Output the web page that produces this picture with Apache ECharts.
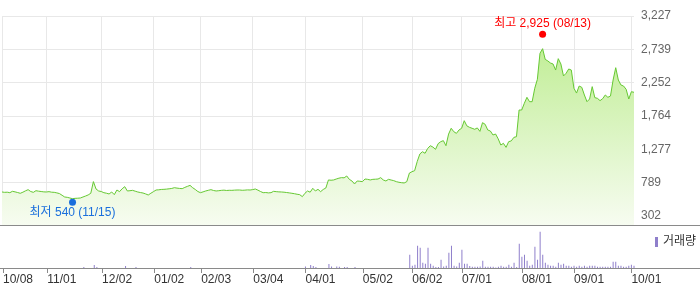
<!DOCTYPE html>
<html><head><meta charset="utf-8">
<script src="https://cdn.jsdelivr.net/npm/echarts@6/dist/echarts.min.js"></script>
<style>html,body{margin:0;padding:0;background:#fff}#c{width:700px;height:289px}</style>
</head><body><div id="c"></div>
<script>
const dates = [
"10/08","10/10","10/11","10/14","10/15","10/16","10/17","10/18","10/21","10/22","10/23","10/24","10/25","10/28","10/29","10/30","10/31",
"11/01","11/04","11/05","11/06","11/07","11/08","11/11","11/12","11/13","11/14","11/15","11/18","11/19","11/20","11/21","11/22","11/25","11/26","11/27","11/28","11/29",
"12/02","12/03","12/04","12/05","12/06","12/09","12/10","12/11","12/12","12/13","12/16","12/17","12/18","12/19","12/20","12/23","12/24","12/26","12/27","12/30",
"01/02","01/03","01/06","01/07","01/08","01/09","01/10","01/13","01/14","01/15","01/16","01/17","01/20","01/21","01/22","01/23","01/24","01/31",
"02/03","02/04","02/05","02/06","02/07","02/10","02/11","02/12","02/13","02/14","02/17","02/18","02/19","02/20","02/21","02/24","02/25","02/26","02/27","02/28",
"03/04","03/05","03/06","03/07","03/10","03/11","03/12","03/13","03/14","03/17","03/18","03/19","03/20","03/21","03/24","03/25","03/26","03/27","03/28","03/31",
"04/01","04/02","04/03","04/04","04/07","04/08","04/09","04/10","04/11","04/14","04/15","04/16","04/17","04/18","04/21","04/22","04/23","04/24","04/25","04/28","04/29","04/30",
"05/02","05/07","05/08","05/09","05/12","05/13","05/14","05/15","05/16","05/19","05/20","05/21","05/22","05/23","05/26","05/27","05/28","05/29","05/30",
"06/02","06/04","06/05","06/09","06/10","06/11","06/12","06/13","06/16","06/17","06/18","06/19","06/20","06/23","06/24","06/25","06/26","06/27","06/30",
"07/01","07/02","07/03","07/04","07/07","07/08","07/09","07/10","07/11","07/14","07/15","07/16","07/17","07/18","07/21","07/22","07/23","07/24","07/25","07/28","07/29","07/30","07/31",
"08/01","08/04","08/05","08/06","08/07","08/08","08/11","08/12","08/13","08/14","08/18","08/19","08/20","08/21","08/22","08/25","08/26","08/27","08/28","08/29",
"09/01","09/02","09/03","09/04","09/05","09/08","09/09","09/10","09/11","09/12","09/15","09/16","09/17","09/18","09/19","09/22","09/23","09/24","09/25","09/26","09/29","09/30",
"10/01","10/02"
];
const prices = [
653,648,650,643,663,655,645,634,650,670,
687,660,648,672,665,660,655,653,658,650,
648,640,630,605,580,575,565,555,560,562,
565,580,594,610,634,805,697,668,660,643,
635,624,653,614,682,658,700,731,668,672,
677,665,653,645,638,625,609,635,658,682,
685,690,692,695,700,705,716,710,705,702,
720,735,750,716,690,660,643,655,668,678,
687,675,668,672,677,680,675,678,677,680,
682,682,678,680,684,682,688,697,680,660,
643,645,640,643,663,658,655,653,650,645,
640,634,628,620,614,585,634,668,650,707,
668,692,658,690,711,829,825,829,843,855,
863,860,887,838,814,770,814,810,804,843,
838,829,838,840,843,863,829,814,838,828,
819,804,795,789,785,804,930,950,965,1100,
1209,1242,1219,1290,1330,1310,1277,1360,1389,1404,
1330,1500,1585,1535,1511,1560,1585,1696,1620,1599,
1585,1570,1590,1540,1667,1643,1560,1545,1487,1501,
1430,1340,1365,1306,1389,1400,1452,1462,1852,1852,
1950,2038,1974,1974,2170,2301,2681,2749,2593,2570,
2540,2525,2437,2603,2525,2350,2389,2452,2437,2170,
2100,2203,2184,2072,1974,2013,2194,2033,2023,1989,
2018,2072,2038,2057,2291,2471,2291,2218,2203,2155,
2013,2120,2111
];
const volumes = [
0,0,0,0,0,0,0,0,0,0,
0,0,0,0,0,0,0,0,0,0,
0,0,0,0,0,0,0,0,0,0,
0,10,0,0,0,30,10,0,0,0,
0,0,0,0,0,0,0,20,0,0,
0,10,0,0,0,0,0,0,0,0,
0,0,0,0,0,0,0,0,0,0,
0,0,10,0,0,0,0,0,0,0,
0,0,0,0,0,0,0,0,0,0,
0,0,0,0,0,0,0,0,0,0,
0,0,0,0,0,0,0,0,0,0,
0,0,0,0,0,0,15,0,30,20,
10,0,0,0,0,40,15,0,15,12,
0,10,10,0,0,10,0,0,0,0,
0,0,0,0,0,0,0,0,0,0,
0,0,0,0,0,0,133,23,33,223,
203,53,43,203,43,23,10,10,83,15,
23,153,223,23,15,53,183,43,43,20,
13,13,13,15,73,13,13,13,13,5,
13,23,13,13,33,13,53,10,243,113,
133,73,23,33,213,83,363,133,53,33,
23,23,13,53,33,43,23,23,13,23,
13,23,13,23,13,23,23,23,13,13,
13,13,13,13,63,63,23,23,13,13,
23,33,23
];
const xTickLabels = ["10/08","11/01","12/02","01/02","02/03","03/04","04/01","05/02","06/02","07/01","08/01","09/01","10/01"];
const yTickValues = [302,789.5,1277,1764.5,2252,2739.5,3227];
const yTickLabels = ["302","789","1,277","1,764","2,252","2,739","3,227"];
const maxPoint = {date:"08/13", value:2925, label:"최고 2,925 (08/13)"};
const minPoint = {date:"11/15", value:540, label:"최저 540 (11/15)"};
const volumeName = "거래량";

const FONT = "'Liberation Sans','Noto Sans CJK KR',sans-serif";
const isTick = (i, v) => xTickLabels.indexOf(v) >= 0;

const chart = echarts.init(document.getElementById('c'), null, {renderer:'canvas'});
chart.setOption({
  animation:false,
  backgroundColor:'#fff',
  textStyle:{fontFamily:FONT},
  grid:[
    {left:2, right:66, top:16, bottom:63.5, containLabel:false},
    {left:2, right:66, top:226, height:42, containLabel:false}
  ],
  legend:{
    data:[volumeName], left:650, top:231, icon:'rect', itemWidth:3, itemHeight:10,
    selectedMode:false, textStyle:{fontSize:12, color:'#333', fontFamily:FONT}
  },
  xAxis:[
    {gridIndex:0, type:'category', data:dates, boundaryGap:false,
     axisLine:{show:false}, axisTick:{show:false}, axisLabel:{show:false},
     splitLine:{show:true, interval:isTick, lineStyle:{color:'#e8e8e8', width:1}}},
    {gridIndex:1, type:'category', data:dates, boundaryGap:false,
     axisLine:{show:false},
     axisTick:{show:true, interval:isTick, length:5, lineStyle:{color:'#8a8a8a'}},
     axisLabel:{interval:isTick, align:'left', margin:6, color:'#333', fontSize:12, fontFamily:FONT},
     splitLine:{show:false}}
  ],
  yAxis:[
    {gridIndex:0, type:'value', position:'right', min:163, max:3227,
     axisLine:{show:false},
     axisTick:{show:false, customValues:yTickValues},
     axisLabel:{customValues:yTickValues, margin:7, color:'#666', fontSize:12, fontFamily:FONT,
       formatter:(v)=>{const k=yTickValues.indexOf(v); return k>=0?yTickLabels[k]:'';}},
     splitLine:{show:true, lineStyle:{color:'#e8e8e8', width:1}}},
    {gridIndex:1, type:'value', min:0, max:420, show:false}
  ],
  series:[
    {type:'line', xAxisIndex:0, yAxisIndex:0, data:prices, symbol:'none', z:2,
     lineStyle:{color:'#66c933', width:1},
     areaStyle:{opacity:1, color:new echarts.graphic.LinearGradient(0,0,0,1,[
       {offset:0,color:'#c2ee98'},{offset:1,color:'#f7fcf1'}])}},
    {type:'scatter', xAxisIndex:0, yAxisIndex:0, data:[[maxPoint.date, maxPoint.value]], z:10,
     symbolSize:7, symbolOffset:[0,-2.5], itemStyle:{color:'#ff0000', opacity:1},
     label:{show:true, position:'top', distance:1, formatter:()=>maxPoint.label, color:'#ff0000', fontSize:12, fontFamily:FONT}},
    {type:'scatter', xAxisIndex:0, yAxisIndex:0, data:[[minPoint.date, minPoint.value]], z:10,
     symbolSize:7, symbolOffset:[0,2.5], itemStyle:{color:'#1a6fdc', opacity:1},
     label:{show:true, position:'bottom', distance:1, formatter:()=>minPoint.label, color:'#1a6fdc', fontSize:12, fontFamily:FONT}},
    {type:'bar', name:volumeName, xAxisIndex:1, yAxisIndex:1, data:volumes, barWidth:1,
     itemStyle:{color:'#8f7fcb'}}
  ],
  graphic:[
    {type:'line', shape:{x1:0,y1:225.5,x2:700,y2:225.5}, style:{stroke:'#8a8a8a', lineWidth:1}, z:100},
    {type:'line', shape:{x1:0,y1:268.5,x2:700,y2:268.5}, style:{stroke:'#8a8a8a', lineWidth:1}, z:100}
  ]
});
</script>
</body></html>
